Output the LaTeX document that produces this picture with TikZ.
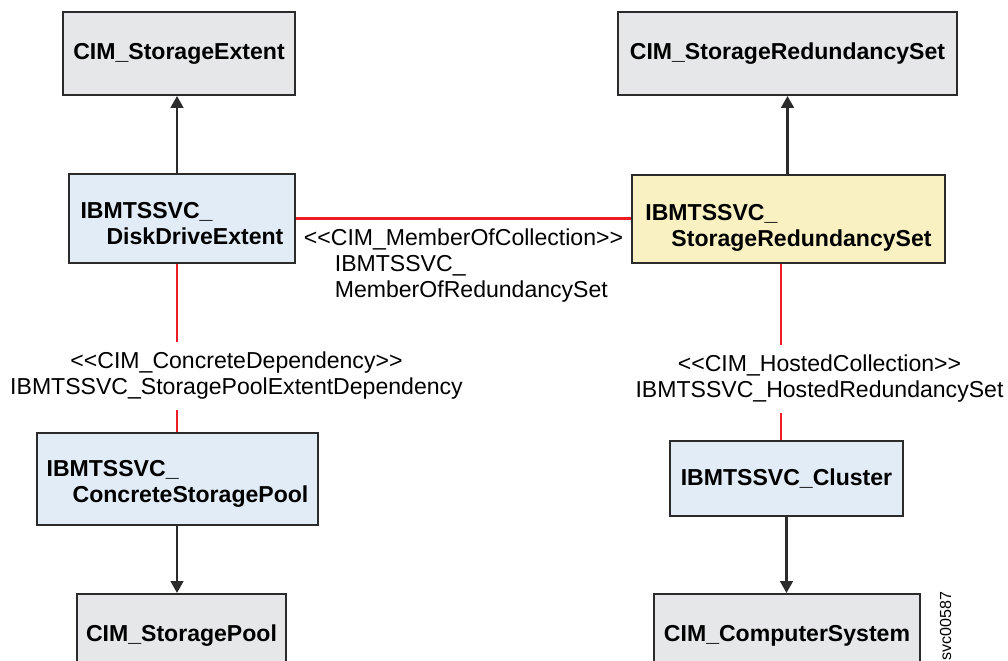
\documentclass[tikz,border=0pt]{standalone}
\usepackage{fontspec}
\setmainfont{Liberation Sans}[Ligatures=TeXOff]
\usetikzlibrary{positioning,arrows.meta}
\definecolor{classgray}{HTML}{E6E7E8}
\definecolor{classblue}{HTML}{E1ECF7}
\definecolor{classyellow}{HTML}{F9F1C2}
\definecolor{assocred}{HTML}{ED1C24}
\definecolor{edgegray}{HTML}{2B2B2B}
\newcommand{\clsindent}{\hspace*{18.5pt}}
\newcommand{\lblindent}{\hspace*{22pt}}
\newcommand{\clstop}[1]{\rule{0pt}{#1}}

\begin{document}
\begin{tikzpicture}[x=0.025cm, y=-0.025cm]
    \tikzset{
      boxsize/.style 2 args = { minimum width = #1*0.025cm, minimum height = #2*0.025cm },
      class/.style = { draw = edgegray, line width = 1.4pt, inner sep = 0pt, align = left,
        font = \fontsize{16.4}{18.5}\selectfont\bfseries },
      cim class/.style = { class, fill = classgray },
      svc class/.style = { class, fill = classblue },
      assoc/.style = { assocred, line width = 1.7pt },
      inherit/.style = { edgegray, line width = 1.8pt, -{Triangle[length=8.5pt, width=9pt]} },
      assoc label/.style = { inner xsep = 0pt, inner ysep = 7pt, font = \fontsize{16.4}{18.5}\selectfont },
    }
    \clip (0,0) rectangle (1008,661);
    \fill[white] (0,0) rectangle (1008,661);

    % base classes
    \node[cim class, boxsize={232}{83}] (storage extent) at (179,53.5) {CIM\_StorageExtent};
    \node[cim class, boxsize={339}{83}] (storage redundancy set) at (787.5,53.5) {CIM\_StorageRedundancySet};
    \node[cim class, boxsize={209}{83}] (storage pool) at (181.5,635.5) {CIM\_StoragePool};
    \node[cim class, boxsize={266}{83}] (computer system) at (787,635.5) {CIM\_ComputerSystem};

    % provider classes
    \node[svc class, boxsize={226}{89}] (disk drive extent) at (182,218.5)
        {\clstop{18.9pt}IBMTSSVC\_\\\clsindent DiskDriveExtent};
    \node[class, fill=classyellow, boxsize={313}{88}] (redundancy set) at (788.5,219)
        {\clstop{23.7pt}IBMTSSVC\_\\\clsindent StorageRedundancySet};
    \node[svc class, boxsize={281}{92}] (concrete pool) at (177.5,479)
        {\clstop{17.9pt}IBMTSSVC\_\\\clsindent ConcreteStoragePool};
    \node[svc class, boxsize={233}{75}] (cluster) at (786.5,478.5) {IBMTSSVC\_Cluster};

    % association names
    \node[assoc label, align=left] (member collection) at (463.5,266)
        {<<CIM\_MemberOfCollection>>\\\lblindent IBMTSSVC\_\\\lblindent MemberOfRedundancySet};
    \node[assoc label, align=center] (concrete dependency) at (236.5,376)
        {<<CIM\_ConcreteDependency>>\\IBMTSSVC\_StoragePoolExtentDependency};
    \node[assoc label, align=center] (hosted collection) at (819.5,379)
        {<<CIM\_HostedCollection>>\\IBMTSSVC\_HostedRedundancySet};

    \node[rotate=90, inner sep=0pt, font=\fontsize{11.4}{12}\selectfont] (figure id) at (945.5,626) {svc00587};

    \coordinate (left stem) at (177,0);
    \coordinate (right stem) at (781,0);

    \draw[inherit] (disk drive extent.north -| left stem) -- (storage extent.south -| left stem);
    \draw[inherit] (redundancy set.north -| storage redundancy set.south) -- (storage redundancy set.south);
    \draw[inherit] (concrete pool.south -| left stem) -- (storage pool.north -| left stem);
    \draw[inherit] (cluster.south) -- (cluster.south |- computer system.north);

    \draw[assoc] (disk drive extent.east) -- (disk drive extent.east -| redundancy set.west);
    \draw[assoc] (disk drive extent.south -| left stem) -- (concrete dependency.north -| left stem);
    \draw[assoc] (concrete dependency.south -| left stem) -- (concrete pool.north -| left stem);
    \draw[assoc] (redundancy set.south -| right stem) -- (hosted collection.north -| right stem);
    \draw[assoc] (hosted collection.south -| right stem) -- (cluster.north -| right stem);
\end{tikzpicture}
\end{document}
